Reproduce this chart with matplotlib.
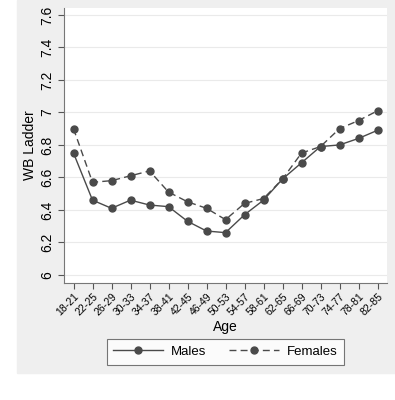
import matplotlib
matplotlib.use("Agg")
import matplotlib.pyplot as plt
from matplotlib.patches import Rectangle

ages = ["18-21", "22-25", "26-29", "30-33", "34-37", "38-41", "42-45", "46-49",
        "50-53", "54-57", "58-61", "62-65", "66-69", "70-73", "74-77", "78-81", "82-85"]
males = [6.75, 6.46, 6.41, 6.46, 6.43, 6.42, 6.33, 6.27, 6.26, 6.37, 6.46,
         6.59, 6.69, 6.79, 6.80, 6.84, 6.89]
females = [6.90, 6.57, 6.58, 6.61, 6.64, 6.51, 6.45, 6.41, 6.34, 6.44, 6.47,
           6.59, 6.75, 6.79, 6.90, 6.95, 7.01]
yticks = [6, 6.2, 6.4, 6.6, 6.8, 7, 7.2, 7.4, 7.6]
ytick_labels = ["6", "6.2", "6.4", "6.6", "6.8", "7", "7.2", "7.4", "7.6"]

plt.rcParams["font.family"] = ["Liberation Sans", "DejaVu Sans"]

fig = plt.figure(figsize=(3.95, 4.0), dpi=100, facecolor="white")
bg = Rectangle((17 / 395, 27 / 400), 1 - 17 / 395, 1 - 27 / 400,
               transform=fig.transFigure, color="#efefef", zorder=-10)
fig.patches.append(bg)
ax = fig.add_axes([64 / 395, 1 - 283 / 400, (387 - 64) / 395, (283 - 8) / 400])
ax.set_facecolor("white")

lc = "#4a4a4a"
x = range(len(ages))
ax.plot(x, males, "-o", color=lc, lw=1.0, ms=5, label="Males")
ax.plot(x, females, "--o", color=lc, lw=1.0, ms=5, dashes=(5, 3), label="Females")

ax.set_xlim(-0.5, 16.5)
ax.set_ylim(5.95, 7.643)
ax.set_yticks(yticks)
ax.set_yticklabels(ytick_labels, rotation=90, va="center", fontsize=10)
ax.set_xticks(list(x))
ax.set_xticklabels(ages, rotation=45, ha="right", rotation_mode="anchor", fontsize=7.5)
ax.grid(axis="y", color="#eaeaea", lw=0.8)
ax.set_axisbelow(True)
for s in ("top", "right"):
    ax.spines[s].set_visible(False)
for s in ("left", "bottom"):
    ax.spines[s].set_color("#777777")
ax.tick_params(colors="#555555", length=4, width=0.8, labelcolor="black")
ax.tick_params(axis="x", pad=2)
ax.tick_params(axis="y", pad=3)
ax.set_ylabel("WB Ladder", fontsize=10, labelpad=2)
ax.set_xlabel("Age", fontsize=10, labelpad=2)

leg = ax.legend(loc="upper center", bbox_to_anchor=(0.5, -0.204), ncol=2,
                frameon=True, fancybox=False, fontsize=9.5, handlelength=3.8,
                columnspacing=1.7, borderpad=0.5, borderaxespad=0,
                handletextpad=0.6)
leg.get_frame().set_edgecolor("#555555")
leg.get_frame().set_linewidth(0.8)

fig.savefig("out.png", dpi=100, facecolor="white")
